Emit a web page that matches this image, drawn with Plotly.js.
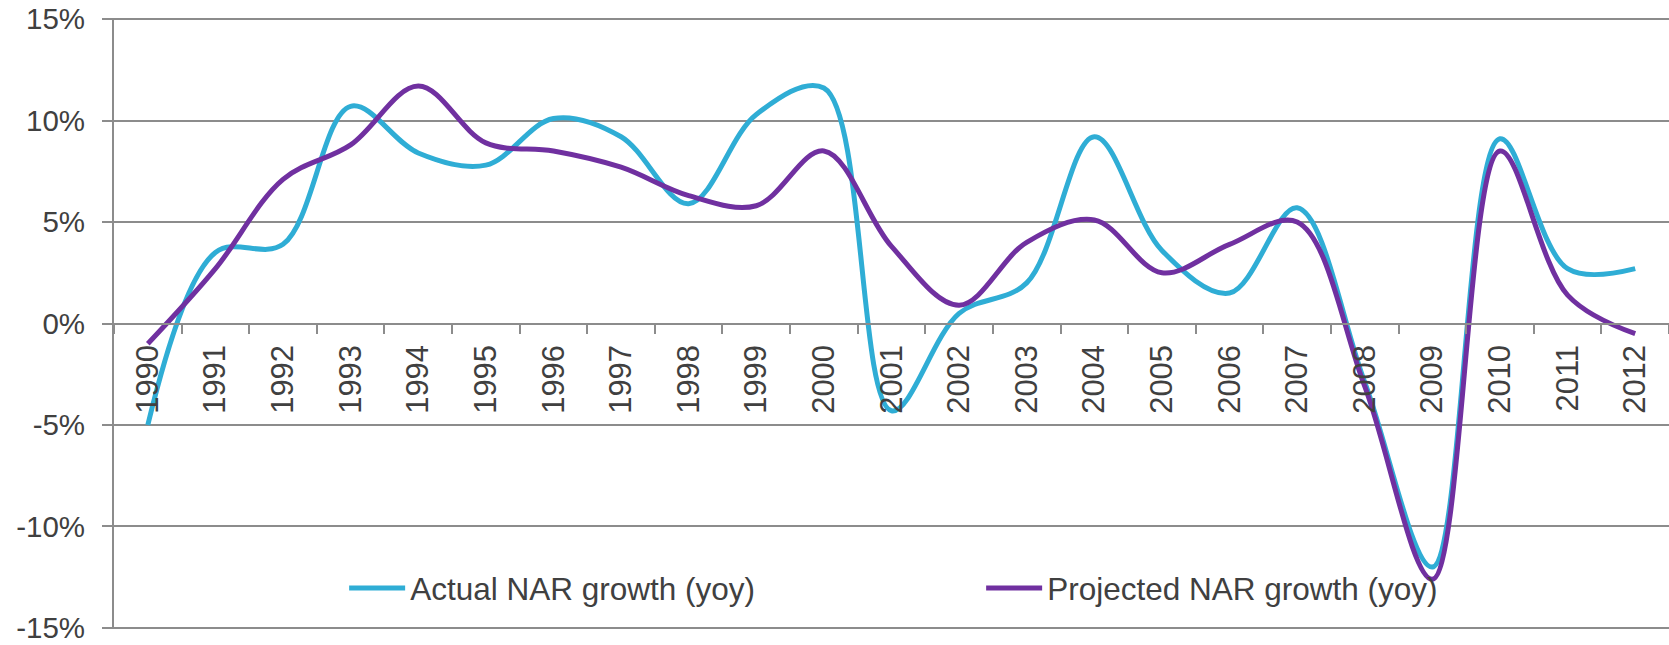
<!DOCTYPE html>
<html>
<head>
<meta charset="utf-8">
<script src="https://cdn.plot.ly/plotly-3.0.1.min.js"></script>
<style>
  html, body { margin: 0; padding: 0; background: #ffffff; }
  #chart { width: 1669px; height: 645px; }
</style>
</head>
<body>
<div id="chart"></div>
<script>
// Years (categories)
const years = ['1990','1991','1992','1993','1994','1995','1996','1997','1998','1999','2000',
               '2001','2002','2003','2004','2005','2006','2007','2008','2009','2010','2011','2012'];

// Actual NAR growth (yoy), percent
const actualGrowth = [-5.0, 3.5, 3.9, 10.7, 8.4, 7.8, 10.1, 9.2, 5.9, 10.3, 11.6,
                      -4.3, 0.5, 2.0, 9.2, 3.6, 1.5, 5.7, -2.9, -12.0, 9.1, 2.7, 2.7];

// Projected NAR growth (yoy), percent
const projectedGrowth = [-1.0, 2.7, 7.1, 8.8, 11.7, 8.9, 8.5, 7.7, 6.3, 5.8, 8.5,
                         3.8, 0.9, 4.0, 5.1, 2.5, 3.9, 5.0, -3.1, -12.6, 8.5, 1.4, -0.5];

// Y-axis ticks
const yTicks = [-15, -10, -5, 0, 5, 10, 15];
const yTickText = ['-15%', '-10%', '-5%', '0%', '5%', '10%', '15%'];

const seriesNames = ['Actual NAR growth (yoy)', 'Projected NAR growth (yoy)'];
const seriesColors = ['#2FADD5', '#7030A0'];

const textColor = '#404040';
const gridColor = '#8c8c8c';
const fontFamily = 'Liberation Sans, Arial, sans-serif';

const traces = [
  {
    x: years, y: actualGrowth, name: seriesNames[0], type: 'scatter', mode: 'lines',
    line: { color: seriesColors[0], width: 5, shape: 'spline', smoothing: 1 },
    hoverinfo: 'x+y'
  },
  {
    x: years, y: projectedGrowth, name: seriesNames[1], type: 'scatter', mode: 'lines',
    line: { color: seriesColors[1], width: 5, shape: 'spline', smoothing: 1 },
    hoverinfo: 'x+y'
  }
];

const layout = {
  width: 1669,
  height: 645,
  margin: { l: 114, r: 0, t: 18, b: 16, pad: 0 },
  paper_bgcolor: '#ffffff',
  plot_bgcolor: '#ffffff',
  font: { family: fontFamily, color: textColor, size: 30 },
  showlegend: true,
  legend: {
    orientation: 'h',
    x: 0.148, xanchor: 'left',
    y: 0.067, yanchor: 'middle',
    bgcolor: 'rgba(0,0,0,0)',
    font: { family: fontFamily, size: 31.5, color: textColor },
    itemwidth: 56,
    entrywidth: 566,
    entrywidthmode: 'pixels',
    traceorder: 'normal'
  },
  xaxis: {
    type: 'category',
    range: [-0.5, 22.5],
    anchor: 'free',
    position: 0.5,
    showline: true,
    linecolor: gridColor,
    linewidth: 2,
    showgrid: false,
    zeroline: false,
    ticks: 'outside',
    tickson: 'boundaries',
    ticklen: 9,
    tickwidth: 2,
    tickcolor: gridColor,
    tickangle: -90,
    ticklabelstandoff: 8,
    tickfont: { family: fontFamily, size: 31, color: textColor },
    fixedrange: true
  },
  yaxis: {
    range: [-15.05, 15.05],
    tickvals: yTicks,
    ticktext: yTickText,
    showline: true,
    linecolor: gridColor,
    linewidth: 2,
    showgrid: true,
    gridcolor: gridColor,
    gridwidth: 2,
    zeroline: false,
    ticks: 'outside',
    ticklen: 10,
    tickwidth: 2,
    tickcolor: gridColor,
    ticklabelstandoff: 11,
    tickfont: { family: fontFamily, size: 29.5, color: textColor },
    fixedrange: true
  }
};

Plotly.newPlot('chart', traces, layout, { displayModeBar: false, staticPlot: true });
</script>
</body>
</html>
